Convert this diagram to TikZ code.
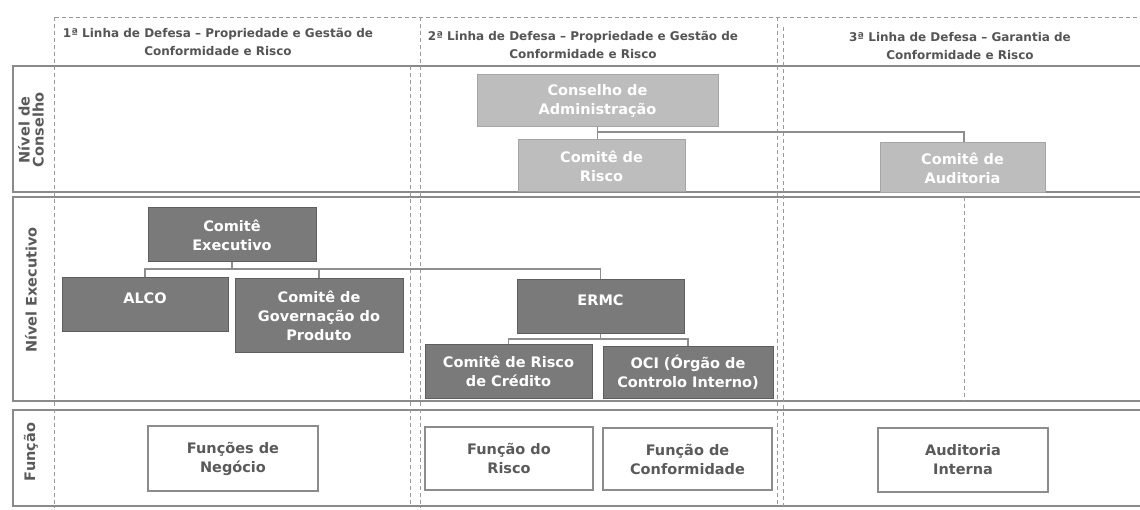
\documentclass[tikz,border=0pt]{standalone}
\usepackage{fontspec}
\setmainfont{DejaVu Sans}
\definecolor{rowgray}{HTML}{8A8A8A}
\definecolor{sepgray}{HTML}{9A9A9A}
\definecolor{lgray}{HTML}{BDBDBD}
\definecolor{lgrayb}{HTML}{A5A5A5}
\definecolor{dgray}{HTML}{7A7A7A}
\definecolor{dgrayb}{HTML}{5E5E5E}
\definecolor{fgray}{HTML}{8C8C8C}
\definecolor{ftext}{HTML}{5A5A5A}
\definecolor{conngray}{HTML}{8E8E8E}
\definecolor{headtext}{HTML}{555555}
\tikzset{
  rowbox/.style={draw=rowgray, line width=2pt},
  sepline/.style={draw=sepgray, line width=0.8pt, dash pattern=on 4pt off 3pt},
  boxfont/.style={font=\bfseries\fontsize{14.5}{19}\selectfont},
  lightbox/.style={boxfont, fill=lgray, draw=lgrayb, line width=1pt, text=white, align=center, inner sep=2pt},
  darkbox/.style={boxfont, fill=dgray, draw=dgrayb, line width=1pt, text=white, align=center, inner sep=2pt},
  funcbox/.style={boxfont, fill=white, draw=fgray, line width=2.5pt, text=ftext, align=center, inner sep=2pt},
  conn/.style={draw=conngray, line width=1.2pt},
  headfont/.style={font=\bfseries\fontsize{12}{18}\selectfont, text=headtext, align=center},
  rowlabel/.style={font=\bfseries\fontsize{14.5}{14}\selectfont, text=ftext, align=center, rotate=90}
}
\begin{document}
\begin{tikzpicture}[x=1pt,y=-1pt]
\useasboundingbox (0,0) rectangle (1140,510);
% row frames
\draw[rowbox] (13,66) rectangle (1146,192);
\draw[rowbox] (13,197) rectangle (1146,401);
\draw[rowbox] (13,410) rectangle (1146,506);
% dashed column frame
\draw[sepline] (55,17) -- (1146,17);
\draw[sepline] (54,17) -- (54,508);
\draw[sepline] (420,17) -- (420,508);
\draw[sepline] (410,66) -- (410,506);
\draw[sepline] (777,17) -- (777,506);
\draw[sepline] (783,27) -- (783,506);
\draw[sepline] (964,197) -- (964,401);
% headers
\node[headfont] (h1) at (218,42) {1ª Linha de Defesa – Propriedade e Gestão de\\Conformidade e Risco};
\node[headfont] (h2) at (583,45) {2ª Linha de Defesa – Propriedade e Gestão de\\Conformidade e Risco};
\node[headfont] (h3) at (960,46) {3ª Linha de Defesa – Garantia de\\Conformidade e Risco};
% row labels
\node[rowlabel] (r1) at (31,130) {Nível de\\Conselho};
\node[rowlabel] (r2) at (31,290) {Nível Executivo};
\node[rowlabel] (r3) at (31,452) {Função};
% conselho level
\node[lightbox, minimum width=241pt, minimum height=52pt] (cons) at (597.5,101) {Conselho de\\Administração};
\node[lightbox, minimum width=167pt, minimum height=52pt] (crisco) at (601.5,166) {Comitê de\\Risco};
\node[lightbox, minimum width=165pt, minimum height=50pt] (caud) at (962.5,168) {Comitê de\\Auditoria};
\coordinate (j1) at (cons.south |- 0,132);
\draw[conn] (cons.south) -- (j1);
\draw[conn] (j1) -- (j1 -| 964,0) -- (964,0 |- caud.north);
\draw[conn] (j1) -- (j1 |- crisco.north);
% executive level
\node[darkbox, minimum width=168pt, minimum height=54pt] (cexec) at (232,235) {Comitê\\Executivo};
\node[darkbox, minimum width=166pt, minimum height=54pt, text depth=14pt] (alco) at (145,305) {ALCO};
\node[darkbox, minimum width=168pt, minimum height=74pt] (cgov) at (319,316) {Comitê de\\Governação do\\Produto};
\node[darkbox, minimum width=167pt, minimum height=54pt, text depth=14pt] (ermc) at (600.5,307) {ERMC};
\node[darkbox, minimum width=167pt, minimum height=53pt] (ccred) at (508.5,371.5) {Comitê de Risco\\de Crédito};
\node[darkbox, minimum width=170pt, minimum height=51pt] (oci) at (688,372.5) {OCI (Órgão de\\Controlo Interno)};
\coordinate (j2) at (cexec.south |- 0,269);
\draw[conn] (cexec.south) -- (j2);
\draw[conn] (alco.north) -- (alco.north |- j2) -- (ermc.north |- j2) -- (ermc.north);
\draw[conn] (cgov.north) -- (cgov.north |- j2);
\coordinate (j3) at (ermc.south |- 0,339);
\draw[conn] (ermc.south) -- (j3);
\draw[conn] (ccred.north) -- (ccred.north |- j3) -- (oci.north |- j3) -- (oci.north);
% function level
\node[funcbox, minimum width=170pt, minimum height=65pt] (fneg) at (233,458.5) {Funções de\\Negócio};
\node[funcbox, minimum width=168pt, minimum height=63pt] (frisco) at (509,458.5) {Função do\\Risco};
\node[funcbox, minimum width=169pt, minimum height=62pt] (fconf) at (687.5,459) {Função de\\Conformidade};
\node[funcbox, minimum width=170pt, minimum height=64pt] (faud) at (963,460) {Auditoria\\Interna};
\end{tikzpicture}
\end{document}
